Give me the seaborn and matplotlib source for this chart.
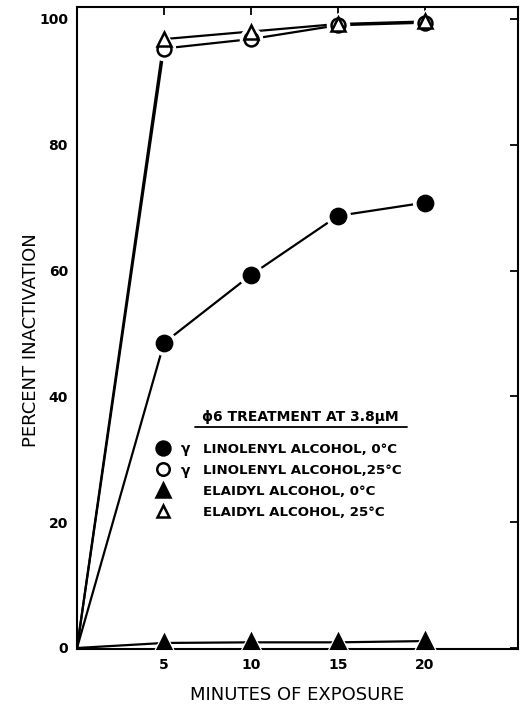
import matplotlib
matplotlib.use("Agg")
import matplotlib.pyplot as plt
import seaborn as sns
import pandas as pd
from matplotlib.lines import Line2D

# ---- data ----
minutes = [0, 5, 10, 15, 20]
linolenyl_0C = [0, 48.5, 59.3, 68.7, 70.8]
linolenyl_25C = [0, 95.3, 96.8, 99.0, 99.4]
elaidyl_0C = [0, 0.8, 0.9, 0.9, 1.1]
elaidyl_25C = [0, 96.8, 98.0, 99.2, 99.6]

series_names = ["LINOLENYL ALCOHOL, 0°C", "LINOLENYL ALCOHOL,25°C",
                "ELAIDYL ALCOHOL, 0°C", "ELAIDYL ALCOHOL, 25°C"]
x_ticks = [5, 10, 15, 20]
y_ticks = [0, 20, 40, 60, 80, 100]
legend_title = "ϕ6 TREATMENT AT 3.8μM"
x_label = "MINUTES OF EXPOSURE"
y_label = "PERCENT INACTIVATION"

frames = []
for name, vals in zip(series_names, [linolenyl_0C, linolenyl_25C, elaidyl_0C, elaidyl_25C]):
    frames.append(pd.DataFrame({"minutes": minutes, "pct": vals, "series": name}))
df = pd.concat(frames, ignore_index=True)

sns.set_style("white")
plt.rcParams["font.family"] = ["DejaVu Sans"]
plt.rcParams["text.color"] = "black"
plt.rcParams["axes.labelcolor"] = "black"
plt.rcParams["xtick.color"] = "black"
plt.rcParams["ytick.color"] = "black"

styles = {
    series_names[0]: dict(marker="o", fc="black", ms=11),
    series_names[1]: dict(marker="o", fc="white", ms=10),
    series_names[2]: dict(marker="^", fc="black", ms=11),
    series_names[3]: dict(marker="^", fc="white", ms=10),
}

fig = plt.figure(figsize=(5.2, 7.05), dpi=100)
ax = fig.add_axes([77 / 520, 1 - 649 / 705, (518 - 77) / 520, (649 - 7) / 705])

# lines
for name in series_names:
    sub = df[df["series"] == name]
    sns.lineplot(data=sub, x="minutes", y="pct", ax=ax, color="black",
                 lw=1.6, zorder=2, legend=False)

# white halo + markers (no marker at origin)
for name in series_names:
    sub = df[(df["series"] == name) & (df["minutes"] > 0)]
    st = styles[name]
    ax.plot(sub["minutes"], sub["pct"], ls="none", marker=st["marker"],
            ms=st["ms"] + 6, mfc="white", mec="white", zorder=3)
for name in series_names:
    sub = df[(df["series"] == name) & (df["minutes"] > 0)]
    st = styles[name]
    ax.plot(sub["minutes"], sub["pct"], ls="none", marker=st["marker"],
            ms=st["ms"], mfc=st["fc"], mec="black", mew=1.8, zorder=4)

ax.set_xlim(0, 25.35)
ax.set_ylim(-0.16, 101.9)
ax.set_xticks(x_ticks)
ax.set_yticks(y_ticks)
ax.set_xticklabels([str(v) for v in x_ticks], fontsize=10, fontweight="bold")
ax.set_yticklabels([str(v) for v in y_ticks], fontsize=10, fontweight="bold")
ax.tick_params(direction="in", top=True, right=True, length=6, width=1.3,
               pad=6.5, labelcolor="black", color="black")
for sp in ax.spines.values():
    sp.set_visible(True)
    sp.set_linewidth(1.5)
    sp.set_color("black")

ax.set_xlabel(x_label, fontsize=13, color="black")
ax.set_ylabel(y_label, fontsize=13, color="black")
ax.xaxis.set_label_coords(0.5, -(695 - 649) / 642, transform=ax.transAxes)
ax.xaxis.label.set_va("center")
ax.yaxis.set_label_coords(-(77 - 31) / 441, (649 - 340) / 642)
ax.yaxis.label.set_va("center")

# legend
handles = []
for name in series_names:
    st = styles[name]
    handles.append(Line2D([], [], ls="none", marker=st["marker"], ms=st["ms"] - 1,
                          mfc=st["fc"], mec="black", mew=1.8))
leg = ax.legend(handles, series_names, loc="upper left",
                bbox_to_anchor=((156 - 77) / 441, 1 - (443 - 7) / 642),
                frameon=False, prop={"size": 9.6, "weight": "bold"},
                handletextpad=2.5, labelspacing=0.6, handlelength=1.0,
                borderaxespad=0, borderpad=0)
for t in leg.get_texts():
    t.set_color("black")

# title and underline
fig.text(300 / 520, 1 - 417 / 705, legend_title, ha="center", va="center",
         fontsize=10, fontweight="bold", color="black")
fig.add_artist(Line2D([195 / 520, 407 / 520], [1 - 427 / 705, 1 - 427 / 705],
                      color="black", lw=1.3))

fig.canvas.draw()
texts = leg.get_texts()
for t in texts[:2]:
    bb = t.get_window_extent()
    fig.text((bb.x0 - 17) / 520, (bb.y0 + bb.y1) / 2 / 705, "γ", ha="center",
             va="center", fontsize=10, fontweight="bold", color="black")

fig.savefig("out.png", dpi=100, facecolor="white")
